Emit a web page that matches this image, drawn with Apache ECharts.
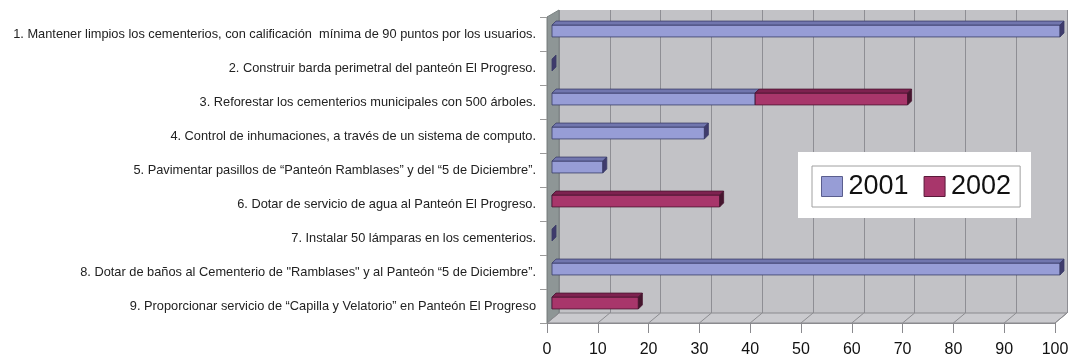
<!DOCTYPE html>
<html>
<head>
<meta charset="utf-8">
<script src="https://cdn.jsdelivr.net/npm/echarts@6/dist/echarts.min.js"></script>
<style>html,body{margin:0;padding:0;background:#fff;}#c{width:1072px;height:358px;}</style>
</head>
<body>
<div id="c"></div>
<script>
const categories = [
  "1. Mantener limpios los cementerios, con calificación  mínima de 90 puntos por los usuarios.",
  "2. Construir barda perimetral del panteón El Progreso.",
  "3. Reforestar los cementerios municipales con 500 árboles.",
  "4. Control de inhumaciones, a través de un sistema de computo.",
  "5. Pavimentar pasillos de “Panteón Ramblases” y del “5 de Diciembre”.",
  "6. Dotar de servicio de agua al Panteón El Progreso.",
  "7. Instalar 50 lámparas en los cementerios.",
  "8. Dotar de baños al Cementerio de \"Ramblases\" y al Panteón “5 de Diciembre”.",
  "9. Proporcionar servicio de “Capilla y Velatorio” en Panteón El Progreso"
];
const seriesNames = ["2001", "2002"];
const values2001 = [100, 0, 40, 30, 10, 0, 0, 100, 0];
const values2002 = [0, 0, 30, 0, 0, 33, 0, 0, 17];
const xMin = 0, xMax = 100, xInterval = 10;

// layout (front plane / back wall)
const W = 1072, H = 358;
const F = {l: 547, r: 1055, t: 17, b: 323};
const B = {l: 559, r: 1067, t: 10, b: 313};

const colors = {
  "2001": {front: "#979dd6", top: "#7176ae", end: "#3f3b6c", stroke: "#3a3c68"},
  "2002": {front: "#a8366b", top: "#7e2250", end: "#45162e", stroke: "#4a1531"}
};

function buildData(vals, base) {
  return vals.map((v, i) => {
    const s = base ? base[i] : 0;
    return [i, s, s + v, v];
  });
}

function makeRender(name, drawZero) {
  const c = colors[name];
  return function (params, api) {
    const cat = api.value(0), s = api.value(1), e = api.value(2), v = api.value(3);
    if (!drawZero && v === 0) return null;
    const OX = 5, OY = -3, D = 4;
    const p0 = api.coord([s, cat]);
    const p1 = api.coord([e, cat]);
    const band = api.size([0, 1])[1];
    const h = band * 0.35;
    const x0 = p0[0] + OX, x1 = p1[0] + OX;
    const yc = p0[1] + OY;
    const yt = yc - h / 2, yb = yc + h / 2;
    const children = [];
    if (x1 - x0 > 0.5) {
      children.push({type: "rect", shape: {x: x0, y: yt, width: x1 - x0, height: h},
        style: {fill: c.front, stroke: c.stroke, lineWidth: 0.8}});
      children.push({type: "polygon", shape: {points: [[x0, yt], [x1, yt], [x1 + D, yt - D], [x0 + D, yt - D]]},
        style: {fill: c.top, stroke: c.stroke, lineWidth: 0.8}});
    }
    children.push({type: "polygon", shape: {points: [[x1, yt], [x1 + D, yt - D], [x1 + D, yb - D], [x1, yb]]},
      style: {fill: c.end, stroke: c.stroke, lineWidth: 0.8}});
    return {type: "group", children: children};
  };
}

const chart = echarts.init(document.getElementById("c"), null, {renderer: "canvas"});

const floorLines = [];
for (let v = xMin; v <= xMax; v += xInterval) {
  const fx = F.l + (F.r - F.l) * (v - xMin) / (xMax - xMin);
  const bx = B.l + (B.r - B.l) * (v - xMin) / (xMax - xMin);
  floorLines.push({type: "line", shape: {x1: fx, y1: F.b, x2: bx, y2: B.b},
    style: {stroke: "#8c8c90", lineWidth: 1}, z: 1});
}

const option = {
  animation: false,
  backgroundColor: "#ffffff",
  textStyle: {fontFamily: "Liberation Sans, Arial, sans-serif"},
  grid: [
    {left: F.l, right: W - F.r, top: F.t, bottom: H - F.b, containLabel: false},
    {left: B.l, right: W - B.r, top: B.t, bottom: H - B.b, show: true,
     backgroundColor: "#c2c2c6", borderWidth: 0, z: 0}
  ],
  xAxis: [
    {type: "value", gridIndex: 0, min: xMin, max: xMax, interval: xInterval,
     axisLine: {show: true, lineStyle: {color: "#8a8a8e"}},
     axisTick: {show: true, length: 10, lineStyle: {color: "#8a8a8e"}},
     axisLabel: {fontSize: 16, color: "#111", margin: 19},
     splitLine: {show: false}, z: 3},
    {type: "value", gridIndex: 1, min: xMin, max: xMax, interval: xInterval,
     axisLine: {show: false}, axisTick: {show: false}, axisLabel: {show: false},
     splitLine: {show: true, lineStyle: {color: "#8e8e94", width: 1}}}
  ],
  yAxis: [
    {type: "category", gridIndex: 0, data: categories, inverse: true,
     axisLine: {show: true, lineStyle: {color: "#7f8585"}},
     axisTick: {show: true, length: 7, lineStyle: {color: "#9a9a9a"}},
     axisLabel: {fontSize: 12.8, color: "#222", margin: 11},
     z: 3},
    {type: "category", gridIndex: 1, data: categories, inverse: true, show: false}
  ],
  legend: {
    left: 812, top: 166, z: 30,
    data: [
      {name: "2001", itemStyle: {color: colors["2001"].front, borderColor: "#5a5e8e", borderWidth: 1}},
      {name: "2002", itemStyle: {color: colors["2002"].front, borderColor: "#5a1a3a", borderWidth: 1}}
    ],
    icon: "rect", itemWidth: 21, itemHeight: 20, itemGap: 15,
    backgroundColor: "#ffffff", borderColor: "#a0a0a0", borderWidth: 1,
    padding: [7, 9, 7, 9],
    textStyle: {fontSize: 27, color: "#111", padding: [0, 0, 0, 1]}
  },
  graphic: [
    {type: "polygon", shape: {points: [[F.l, F.t], [B.l, B.t], [B.l, B.b], [F.l, F.b]]},
     style: {fill: "#8e9696", stroke: "#7a8282", lineWidth: 1}, z: 1},
    {type: "polygon", shape: {points: [[F.l, F.b], [F.r, F.b], [B.r, B.b], [B.l, B.b]]},
     style: {fill: "#cacace", stroke: "#8a8a8e", lineWidth: 1}, z: 1},
    {type: "group", children: floorLines, z: 1},
    {type: "rect", shape: {x: 798, y: 152, width: 233, height: 66},
     style: {fill: "#ffffff"}, z: 20}
  ],
  series: [
    {name: "2001", type: "custom", xAxisIndex: 0, yAxisIndex: 0,
     itemStyle: {color: colors["2001"].front},
     renderItem: makeRender("2001", true),
     encode: {x: [1, 2], y: 0},
     data: buildData(values2001), z: 5},
    {name: "2002", type: "custom", xAxisIndex: 0, yAxisIndex: 0,
     itemStyle: {color: colors["2002"].front},
     renderItem: makeRender("2002", false),
     encode: {x: [1, 2], y: 0},
     data: buildData(values2002, values2001), z: 6}
  ]
};
chart.setOption(option);
</script>
</body>
</html>
